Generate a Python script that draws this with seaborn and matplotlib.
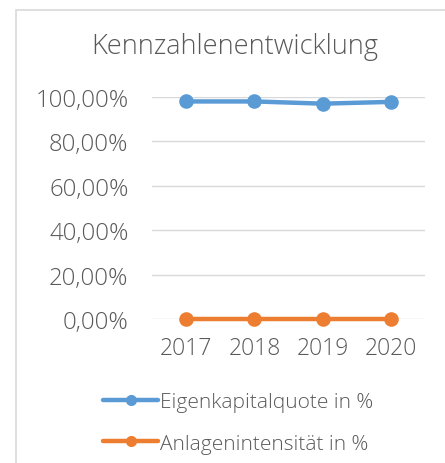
import matplotlib
matplotlib.use("Agg")
import matplotlib.pyplot as plt
import pandas as pd
import seaborn as sns
from matplotlib.patches import Rectangle
from matplotlib.ticker import FuncFormatter

years = ["2017", "2018", "2019", "2020"]
eigenkapitalquote = [98.0, 98.0, 97.0, 97.8]
anlagenintensitaet = [0.0, 0.0, 0.0, 0.0]
series_names = ["Eigenkapitalquote in %", "Anlagenintensität in %"]
colors = ["#5B9BD5", "#ED7D31"]

df = pd.DataFrame({
    "Jahr": years * 2,
    "Wert": eigenkapitalquote + anlagenintensitaet,
    "Kennzahl": [series_names[0]] * 4 + [series_names[1]] * 4,
})

sns.set_style("white")
plt.rcParams["font.family"] = ["Open Sans", "DejaVu Sans"]
plt.rcParams["font.weight"] = "light"
text_color = "#595959"

fig = plt.figure(figsize=(4.45, 4.64), dpi=100)
fig.patches.append(Rectangle((16 / 445, -0.1), 1.2, (464 - 11) / 464 + 0.1,
                             transform=fig.transFigure, fill=False,
                             edgecolor="#D9D9D9", linewidth=1.2))

ax = fig.add_axes([152 / 445, (464 - 320) / 464, (425 - 152) / 445, (320 - 98) / 464])
sns.lineplot(data=df, x="Jahr", y="Wert", hue="Kennzahl", palette=colors,
             marker="o", markersize=10.5, markeredgewidth=0, linewidth=3.2,
             ax=ax, clip_on=False, zorder=3, legend=False)

ax.set_xlim(-0.5, 3.5)
ax.set_ylim(0, 100)
ax.set_yticks([0, 20, 40, 60, 80, 100])
ax.yaxis.set_major_formatter(FuncFormatter(lambda v, _: f"{v:.2f}".replace(".", ",") + "%"))
ax.grid(axis="y", color="#D9D9D9", linewidth=1)
ax.set_axisbelow(True)
for s in ax.spines.values():
    s.set_visible(False)
ax.tick_params(axis="y", length=0, pad=17, labelsize=17.2, labelcolor=text_color)
ax.tick_params(axis="x", length=0, pad=12, labelsize=16.5, labelcolor=text_color)
ax.set_xlabel("")
ax.set_ylabel("")

fig.text(235 / 445, (464 - 47) / 464, "Kennzahlenentwicklung", ha="center", va="center",
         fontsize=19.5, color=text_color)

handles = [plt.Line2D([], [], color=c, linewidth=3.2, marker="o", markersize=8,
                      markeredgewidth=0) for c in colors]
fig.legend(handles, series_names, loc="center left",
           bbox_to_anchor=(103 / 445, (464 - 424) / 464), frameon=False,
           borderpad=0, borderaxespad=0,
           fontsize=15, labelcolor=text_color, handlelength=2.65,
           handletextpad=0.1, labelspacing=1.02)

fig.savefig("out.png", dpi=100)
